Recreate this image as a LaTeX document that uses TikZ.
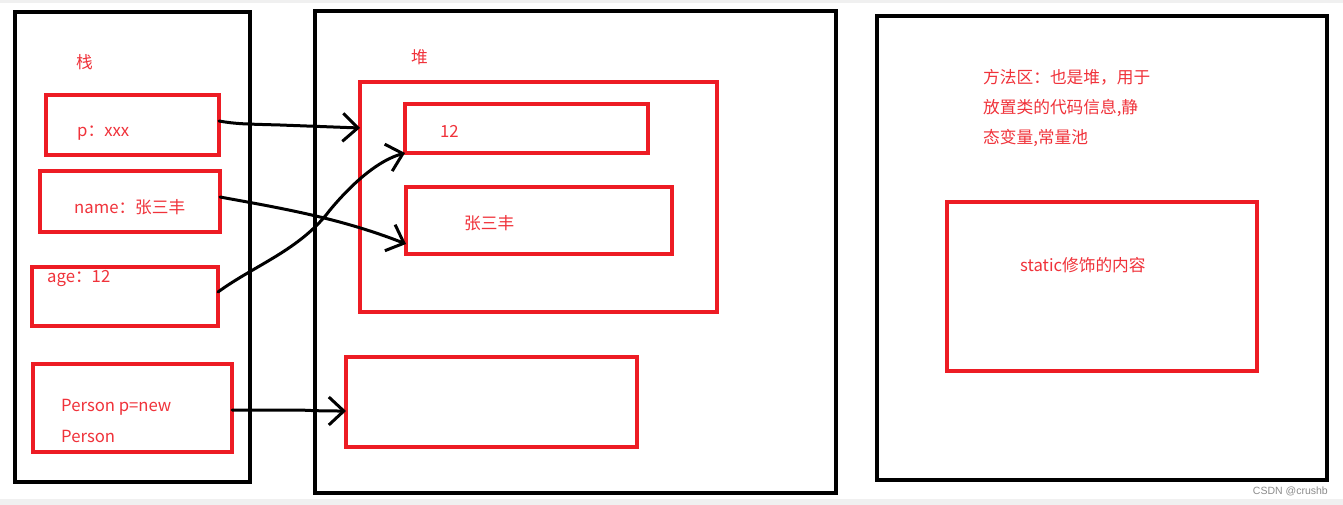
\documentclass[tikz,border=0pt]{standalone}
\usepackage{fontspec}
\setmainfont{Noto Sans CJK SC}
\newfontfamily\wmfont{Liberation Sans}
\usetikzlibrary{arrows.meta}
\definecolor{redline}{HTML}{ED1C24}
\definecolor{redtext}{HTML}{F0323A}
\tikzset{
  blackbox/.style={draw=black, line width=4pt, minimum width=#1, inner sep=0pt, outer sep=0pt},
  redbox/.style={draw=redline, line width=4pt, inner sep=0pt, outer sep=0pt},
  lbl/.style={text=redtext, font=\fontsize{16.7}{20}\selectfont, inner sep=0pt, anchor=west},
  arr/.style={draw=black, line width=3pt, line cap=round, line join=round,
    -{Straight Barb[length=15pt,width=28pt,line width=3pt]}},
}
\begin{document}
\begin{tikzpicture}[x=1pt,y=-1pt]
\useasboundingbox (0,0) rectangle (1343,505);
\fill[white] (0,0) rectangle (1343,505);
\fill[black!6] (0,0) rectangle (1343,3);
\fill[black!6] (0,499) rectangle (1343,505);
% containers
\node[blackbox=235pt, minimum height=470pt] (stack) at (132.5,247) {};
\node[blackbox=521pt, minimum height=482pt] (heap) at (575.5,252) {};
\node[blackbox=450pt, minimum height=464pt] (method) at (1102,248) {};
% stack items
\node[redbox, minimum width=173pt, minimum height=60pt] (p) at (132.5,125) {};
\node[redbox, minimum width=180pt, minimum height=61pt] (name) at (130,201.5) {};
\node[redbox, minimum width=186pt, minimum height=59pt] (age) at (125,296.5) {};
\node[redbox, minimum width=199pt, minimum height=88pt] (person) at (132.5,408) {};
% heap items
\node[redbox, minimum width=357pt, minimum height=230pt] (obj) at (538.5,197) {};
\node[redbox, minimum width=243pt, minimum height=49pt] (num) at (526.5,128.5) {};
\node[redbox, minimum width=266pt, minimum height=67pt] (str) at (539,220.5) {};
\node[redbox, minimum width=291pt, minimum height=90pt] (obj2) at (491.5,402) {};
% method area item
\node[redbox, minimum width=310pt, minimum height=169pt] (static) at (1102,286.5) {};
% labels
\node[lbl] (tstack) at (76,62) {栈};
\node[lbl] (theap) at (411,57) {堆};
\node[lbl] (tp) at (77,133) {p：xxx};
\node[lbl] (tname) at (74,207) {name：张三丰};
\node[lbl] (tage) at (47,279) {age：12};
\node[lbl] (tperson1) at (61,407) {Person p=new};
\node[lbl] (tperson2) at (61,436) {Person};
\node[lbl] (tnum) at (440,131) {12};
\node[lbl] (tstr) at (464,223) {张三丰};
\node[lbl] (tm1) at (983,77) {方法区：也是堆，用于};
\node[lbl] (tm2) at (983,108) {放置类的代码信息,静};
\node[lbl] (tm3) at (983,138) {态变量,常量池};
\node[lbl] (tstatic) at (1020,265) {static修饰的内容};
\node[inner sep=0pt, anchor=east, text=black!45, font=\wmfont\fontsize{10.5}{12}\selectfont] (wm) at (1328,491) {CSDN @crushb};
% connectors
\coordinate (pe) at (p.east |- 0,121);
\draw[arr] (pe) .. controls (236,124) and (245,124) .. (280,125) -- (obj.west |- 0,128);
\draw[arr] (name.east |- 0,197) .. controls (280,208) and (340,218) .. (str.west |- 0,244);
\draw[arr] (age.east |- 0,292) .. controls (255,265) and (300,250) .. (330,210) .. controls (355,180) and (380,160) .. (num.south west);
\draw[arr] (person.east |- 0,410) -- (300,410) .. controls (320,411) and (330,411) .. (obj2.west |- 0,411);
\end{tikzpicture}
\end{document}
